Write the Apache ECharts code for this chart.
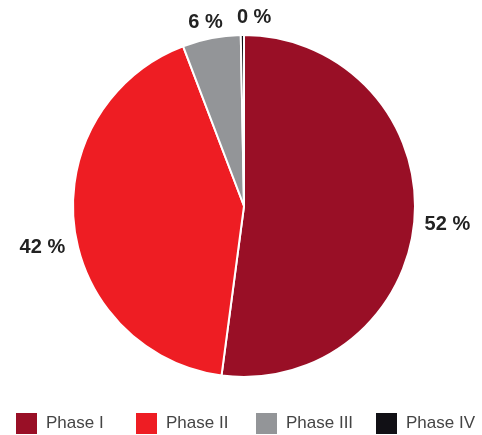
<!DOCTYPE html>
<html><head><meta charset="utf-8">
<script src="https://cdn.jsdelivr.net/npm/echarts@6/dist/echarts.min.js"></script>
<style>html,body{margin:0;padding:0;background:#fff}#c{width:482px;height:435px}</style>
</head><body><div id="c"></div>
<script>
var categories = ['Phase I', 'Phase II', 'Phase III', 'Phase IV'];
var values = [52.1, 42.1, 5.5, 0.3];
var colors = ['#990f26', '#ee1d23', '#939598', '#111015'];

var labelOffsets = [[1, 7], [0, 21], [17, -12], [34, -14]];

var chart = echarts.init(document.getElementById('c'), null, {renderer: 'canvas'});
var data = categories.map(function (n, i) { return {name: n, value: values[i], itemStyle: {color: colors[i]}}; });
var legends = categories.map(function (n, i) {
  return {
    left: 14 + 120 * i, top: 411, padding: 0, itemWidth: 23, itemHeight: 23, itemGap: 0,
    icon: 'rect', selectedMode: false,
    textStyle: {fontFamily: 'Liberation Sans, Arial, sans-serif', fontSize: 17, color: '#444', padding: [0, 0, 0, 3]},
    data: [n]
  };
});
chart.setOption({
  animation: false,
  legend: legends,
  series: [{
    type: 'pie',
    center: [244, 206],
    radius: 171,
    startAngle: 90,
    clockwise: true,
    avoidLabelOverlap: false,
    minShowLabelAngle: 0,
    itemStyle: {borderColor: '#fff', borderWidth: 2},
    label: {
      show: true, position: 'outside',
      fontFamily: 'Liberation Sans, Arial, sans-serif', fontSize: 20, fontWeight: 'bold', color: '#222',
      formatter: function (p) { return Math.round(p.value) + ' %'; }
    },
    labelLine: {show: false, length: 4, length2: 0},
    labelLayout: function (p) {
      var o = labelOffsets[p.dataIndex];
      return {dx: o[0], dy: o[1], hideOverlap: false};
    },
    data: data
  }]
});
</script></body></html>
